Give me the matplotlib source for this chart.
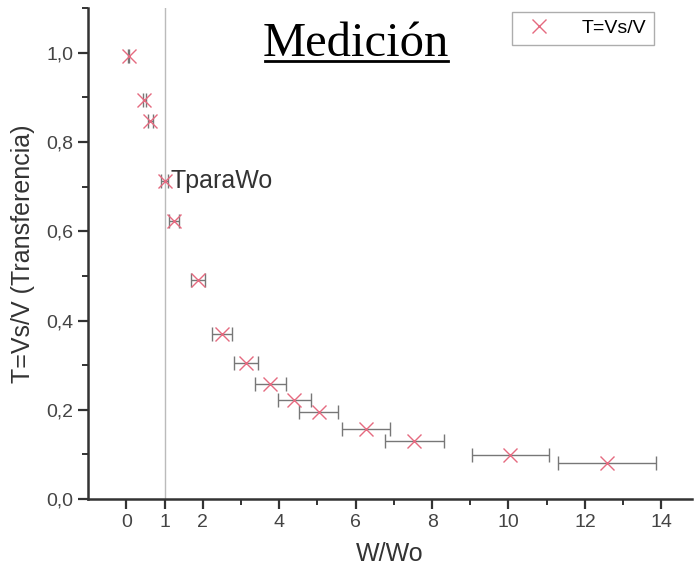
import numpy as np
import matplotlib.pyplot as plt
from matplotlib.ticker import MultipleLocator, FixedLocator

# ---------------------------------------------------------
# Datos
# ---------------------------------------------------------

w_wo = [0.06, 0.47, 0.63, 1.0, 1.25, 1.88, 2.51, 3.14, 3.77, 4.40, 5.03,
        6.28, 7.54, 10.05, 12.57]
T = [0.993, 0.895, 0.848, 0.713, 0.623, 0.491, 0.370, 0.304, 0.258, 0.222,
     0.195, 0.157, 0.131, 0.099, 0.080]
w_err = [0.006, 0.047, 0.063, 0.10, 0.125, 0.188, 0.26, 0.31, 0.40, 0.44,
         0.50, 0.63, 0.77, 1.00, 1.28]

x_major = [0, 1, 2, 4, 6, 8, 10, 12, 14]
x_minor = [3, 5, 7, 9, 11, 13]
y_major = [0.0, 0.2, 0.4, 0.6, 0.8, 1.0]
y_labels = ["0,0", "0,2", "0,4", "0,6", "0,8", "1,0"]

# ---------------------------------------------------------
# Figura
# ---------------------------------------------------------

plt.rcParams['font.family'] = ['Liberation Sans', 'DejaVu Sans']

fig = plt.figure(figsize=(6.94, 5.73), dpi=100)
ax = fig.add_axes([0.127, 0.129, 0.87, 0.857])

ax.axvline(1, color="#bbbbbb", linewidth=1.0, zorder=0)

ax.errorbar(w_wo, T, xerr=w_err, fmt="none", ecolor="#777777",
            elinewidth=1.0, capsize=5, capthick=1.0, zorder=2)
ax.plot(w_wo, T, linestyle="none", marker="x", markersize=10,
        markeredgewidth=1.0, color="#e56a80", label="T=Vs/V", zorder=3)

ax.text(1.15, T[3], "TparaWo", fontsize=18, color="#333333",
        va="center", ha="left")

ax.set_xlim(-1, 14.8)
ax.set_ylim(0, 1.1)

ax.xaxis.set_major_locator(FixedLocator(x_major))
ax.xaxis.set_minor_locator(FixedLocator(x_minor))
ax.yaxis.set_major_locator(FixedLocator(y_major))
ax.yaxis.set_minor_locator(MultipleLocator(0.1))
ax.set_yticklabels(y_labels)

ax.spines["top"].set_visible(False)
ax.spines["right"].set_visible(False)
for side in ["left", "bottom"]:
    ax.spines[side].set_linewidth(1.8)
    ax.spines[side].set_color("#333333")

ax.tick_params(which="major", direction="out", length=7, width=1.6,
               color="#333333", labelsize=14, labelcolor="#444444")
ax.tick_params(which="minor", direction="out", length=4, width=1.4,
               color="#333333")

ax.set_xlabel("W/Wo", fontsize=18, color="#333333", labelpad=8)
ax.set_ylabel("T=Vs/V (Transferencia)", fontsize=18, color="#333333",
              labelpad=8)

fig.text(0.513, 0.902, "Medición", fontsize=35, family="Liberation Serif",
         ha="center", va="baseline")
fig.add_artist(plt.Line2D([0.382, 0.645], [0.893, 0.893], color="black",
                          linewidth=2.0, transform=fig.transFigure))

leg = ax.legend(loc="upper right", bbox_to_anchor=(0.944, 1.0),
                borderaxespad=0.2, fontsize=14, frameon=True,
                fancybox=False, borderpad=0.4, handletextpad=1.2)
leg.get_frame().set_edgecolor("#999999")
leg.get_frame().set_linewidth(1.0)

fig.savefig("out.png", dpi=100)
